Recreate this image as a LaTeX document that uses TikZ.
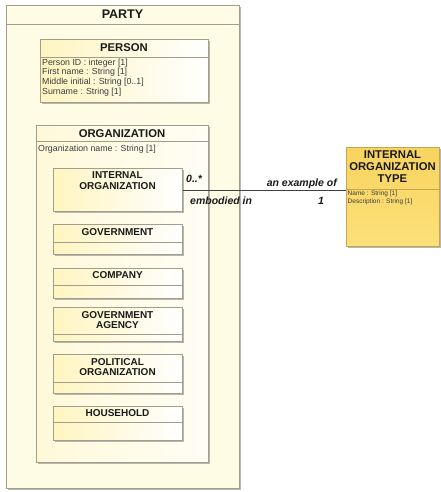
\documentclass[tikz,border=0pt]{standalone}
\usepackage{fontspec}
\setmainfont{Liberation Sans}
\usetikzlibrary{shadows}
\definecolor{bord}{HTML}{A39D8C}
\definecolor{partyfill}{HTML}{FFFCE6}
\definecolor{clsy}{HTML}{FFF5C0}
\definecolor{typefill}{HTML}{FCE07A}
\definecolor{typetop}{HTML}{F8D460}
\definecolor{typebord}{HTML}{C4A652}
\definecolor{txt}{HTML}{1A1A1A}
\tikzset{
  x=1pt,y=-1pt,
  shad/.style={drop shadow={shadow xshift=1.4pt,shadow yshift=-1.4pt,fill=black!40,opacity=0.7}},
  box/.style={draw=bord, line width=0.8pt, anchor=north west, inner sep=0pt, shad},
  partybox/.style={box, fill=partyfill},
  orgbox/.style={box, left color=clsy!60, right color=partyfill!40},
  clsbox/.style={box, left color=clsy, right color=white},
  typebox/.style={draw=typebord, line width=0.8pt, anchor=north west, inner sep=0pt, shad, top color=typetop, bottom color=typefill},
  divider/.style={draw=bord, line width=0.7pt},
  bigtitle/.style={font=\fontsize{12.5}{14}\selectfont\bfseries, text=txt, inner sep=0pt},
  title/.style={font=\fontsize{11.3}{12.5}\selectfont\bfseries, text=txt, inner sep=0pt, align=center},
  subtitle/.style={font=\fontsize{10}{10.8}\selectfont\bfseries, text=txt, inner sep=0pt, align=center},
  attr/.style={font=\fontsize{8.8}{9.8}\selectfont, text=txt!85, inner sep=0pt, align=left, anchor=north west},
  smallattr/.style={font=\fontsize{6.5}{8.2}\selectfont, text=txt!85, inner sep=0pt, align=left, anchor=north west},
  rolelabel/.style={font=\fontsize{10.5}{12}\selectfont\bfseries\itshape, text=txt, inner sep=0pt},
  assoc/.style={draw=black!75, line width=0.7pt}
}
\begin{document}
\begin{tikzpicture}
\useasboundingbox[fill=white] (0,0) rectangle (440,492);

% PARTY
\node[partybox, minimum width=233pt, minimum height=483pt] (party) at (6,5) {};
\draw[divider] (party.west |- 0,24) -- (party.east |- 0,24);
\node[bigtitle] (partyt) at (122.5,14.5) {PARTY};

% PERSON
\node[clsbox, minimum width=168pt, minimum height=63pt] (person) at (40,39) {};
\draw[divider] (person.west |- 0,57) -- (person.east |- 0,57);
\node[title] (persont) at (124,48) {PERSON};
\node[attr] (persona) at (42,58.5) {Person ID : integer [1]\\First name : String [1]\\Middle initial : String [0..1]\\Surname : String [1]};

% ORGANIZATION
\node[orgbox, minimum width=172pt, minimum height=337pt] (org) at (36,125) {};
\draw[divider] (org.west |- 0,141) -- (org.east |- 0,141);
\node[title] (orgt) at (122,133.5) {ORGANIZATION};
\node[attr] (orga) at (38,145) {Organization name : String [1]};

% sub-classes
\node[clsbox, minimum width=129pt, minimum height=43pt] (intorg) at (53,168) {};
\node[subtitle] (intorgt) at (117.5,181) {INTERNAL\\ORGANIZATION};

\node[clsbox, minimum width=129pt, minimum height=30pt] (gov) at (53,224) {};
\draw[divider] (gov.west |- 0,242) -- (gov.east |- 0,242);
\node[subtitle] (govt) at (117.5,232) {GOVERNMENT};

\node[clsbox, minimum width=129pt, minimum height=30pt] (comp) at (53,268) {};
\draw[divider] (comp.west |- 0,285) -- (comp.east |- 0,285);
\node[subtitle] (compt) at (117.5,275) {COMPANY};

\node[clsbox, minimum width=129pt, minimum height=34pt] (agency) at (53,307) {};
\draw[divider] (agency.west |- 0,334) -- (agency.east |- 0,334);
\node[subtitle] (agencyt) at (117.5,320) {GOVERNMENT\\AGENCY};

\node[clsbox, minimum width=129pt, minimum height=39pt] (pol) at (53,354) {};
\draw[divider] (pol.west |- 0,382) -- (pol.east |- 0,382);
\node[subtitle] (polt) at (117.5,367) {POLITICAL\\ORGANIZATION};

\node[clsbox, minimum width=129pt, minimum height=34pt] (house) at (53,406) {};
\draw[divider] (house.west |- 0,422) -- (house.east |- 0,422);
\node[subtitle] (houset) at (117.5,413) {HOUSEHOLD};

% INTERNAL ORGANIZATION TYPE
\node[typebox, minimum width=93pt, minimum height=99pt] (type) at (346,147) {};
\draw[typebord, line width=0.7pt] (type.west |- 0,189) -- (type.east |- 0,189);
\node[title, font=\fontsize{11.3}{12}\selectfont\bfseries] (typet) at (392.5,167) {INTERNAL\\ORGANIZATION\\TYPE};
\node[smallattr] (typea) at (347.5,190.5) {Name : String [1]\\Description : String [1]};

% association
\draw[assoc] (intorg.east) -- (intorg.east -| type.west);
\node[rolelabel, anchor=west] (m1) at (186,179) {0..*};
\node[rolelabel, anchor=west] (r1) at (190,201) {embodied in};
\node[rolelabel, anchor=east] (r2) at (337,184) {an example of};
\node[rolelabel] (m2) at (321,201) {1};
\end{tikzpicture}
\end{document}
